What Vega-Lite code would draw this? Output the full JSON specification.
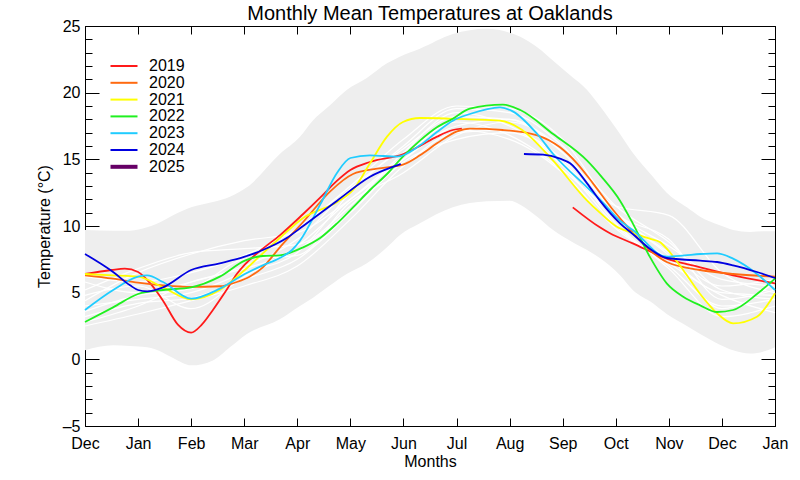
{
  "$schema": "https://vega.github.io/schema/vega-lite/v6.json",
  "width": 690,
  "height": 400,
  "autosize": "none",
  "padding": {"left": 85, "top": 26, "right": 25, "bottom": 54},
  "title": {"text": "Monthly Mean Temperatures at Oaklands", "fontSize": 20, "fontWeight": "normal", "anchor": "middle", "frame": "group", "baseline": "alphabetic", "offset": -22, "color": "black"},
  "config": {
    "font": "Liberation Sans",
    "view": {"stroke": "black", "strokeWidth": 1},
    "axis": {"grid": false, "domain": false, "tickColor": "black", "labelColor": "black", "titleColor": "black", "tickWidth": 1, "labelFontSize": 16, "titleFontSize": 16, "titleFontWeight": "normal"}
  },
  "datasets": {
    "band": [
      {"m": 0, "lo": 0.68, "hi": 9.7}, {"m": 0.53, "lo": 1.05, "hi": 9.65}, {"m": 0.85, "lo": 1.0, "hi": 9.65}, {"m": 1.17, "lo": 0.9, "hi": 9.9},
      {"m": 1.47, "lo": 0.5, "hi": 10.4}, {"m": 1.66, "lo": 0.1, "hi": 10.8}, {"m": 2, "lo": -0.45, "hi": 11.4}, {"m": 2.41, "lo": -0.08, "hi": 11.8},
      {"m": 2.73, "lo": 0.9, "hi": 12.2}, {"m": 3.05, "lo": 1.9, "hi": 12.9}, {"m": 3.67, "lo": 3.0, "hi": 15.4}, {"m": 4.05, "lo": 4.0, "hi": 16.7},
      {"m": 4.29, "lo": 4.6, "hi": 17.9}, {"m": 4.6, "lo": 5.5, "hi": 19.0}, {"m": 4.93, "lo": 6.4, "hi": 20.2}, {"m": 5.31, "lo": 7.2, "hi": 21.1},
      {"m": 5.69, "lo": 8.4, "hi": 22.2}, {"m": 5.93, "lo": 9.3, "hi": 22.7}, {"m": 6.31, "lo": 10.2, "hi": 23.3}, {"m": 6.93, "lo": 11.4, "hi": 24.4},
      {"m": 7.57, "lo": 11.85, "hi": 24.8}, {"m": 8.0, "lo": 11.9, "hi": 24.5}, {"m": 8.2, "lo": 11.6, "hi": 24.2}, {"m": 8.52, "lo": 10.7, "hi": 23.4},
      {"m": 8.82, "lo": 9.7, "hi": 22.4}, {"m": 9.14, "lo": 8.9, "hi": 21.3}, {"m": 9.46, "lo": 8.2, "hi": 20.2}, {"m": 9.7, "lo": 7.6, "hi": 19.0},
      {"m": 10.08, "lo": 6.3, "hi": 16.9}, {"m": 10.32, "lo": 5.2, "hi": 15.5}, {"m": 10.7, "lo": 4.2, "hi": 13.7}, {"m": 10.96, "lo": 3.4, "hi": 12.5},
      {"m": 11.34, "lo": 2.5, "hi": 11.4}, {"m": 11.59, "lo": 1.9, "hi": 10.7}, {"m": 11.96, "lo": 1.1, "hi": 10.05}, {"m": 12.21, "lo": 0.68, "hi": 9.7},
      {"m": 12.53, "lo": 0.43, "hi": 9.55}, {"m": 12.8, "lo": 0.6, "hi": 9.6}, {"m": 13, "lo": 0.9, "hi": 9.6}
    ],
    "white": [
      {"y": "w1", "m": 0, "v": 4.4}, {"y": "w1", "m": 1, "v": 6.5}, {"y": "w1", "m": 2, "v": 7.9}, {"y": "w1", "m": 3, "v": 8.9}, {"y": "w1", "m": 4, "v": 9.5}, {"y": "w1", "m": 5, "v": 12.0}, {"y": "w1", "m": 6, "v": 15.0}, {"y": "w1", "m": 7, "v": 17.5}, {"y": "w1", "m": 8, "v": 18.0}, {"y": "w1", "m": 9, "v": 15.5}, {"y": "w1", "m": 10, "v": 11.0}, {"y": "w1", "m": 11, "v": 8.5}, {"y": "w1", "m": 12, "v": 6.0}, {"y": "w1", "m": 13, "v": 5.5},
      {"y": "w2", "m": 0, "v": 5.2}, {"y": "w2", "m": 1, "v": 6.8}, {"y": "w2", "m": 2, "v": 8.0}, {"y": "w2", "m": 3, "v": 8.3}, {"y": "w2", "m": 4, "v": 8.6}, {"y": "w2", "m": 5, "v": 11.5}, {"y": "w2", "m": 6, "v": 15.5}, {"y": "w2", "m": 7, "v": 18.5}, {"y": "w2", "m": 8, "v": 17.5}, {"y": "w2", "m": 9, "v": 15.0}, {"y": "w2", "m": 10, "v": 10.5}, {"y": "w2", "m": 11, "v": 7.5}, {"y": "w2", "m": 12, "v": 5.0}, {"y": "w2", "m": 13, "v": 4.8},
      {"y": "w3", "m": 0, "v": 2.5}, {"y": "w3", "m": 1, "v": 3.4}, {"y": "w3", "m": 2, "v": 4.4}, {"y": "w3", "m": 3, "v": 5.5}, {"y": "w3", "m": 4, "v": 7.0}, {"y": "w3", "m": 5, "v": 10.5}, {"y": "w3", "m": 6, "v": 14.5}, {"y": "w3", "m": 7, "v": 17.0}, {"y": "w3", "m": 8, "v": 17.2}, {"y": "w3", "m": 9, "v": 14.5}, {"y": "w3", "m": 10, "v": 10.0}, {"y": "w3", "m": 11, "v": 7.0}, {"y": "w3", "m": 12, "v": 4.0}, {"y": "w3", "m": 13, "v": 4.5},
      {"y": "w4", "m": 0, "v": 4.0}, {"y": "w4", "m": 1, "v": 4.5}, {"y": "w4", "m": 2, "v": 5.0}, {"y": "w4", "m": 3, "v": 6.5}, {"y": "w4", "m": 4, "v": 8.0}, {"y": "w4", "m": 5, "v": 12.5}, {"y": "w4", "m": 6, "v": 16.0}, {"y": "w4", "m": 7, "v": 18.8}, {"y": "w4", "m": 8, "v": 18.5}, {"y": "w4", "m": 9, "v": 16.0}, {"y": "w4", "m": 10, "v": 11.5}, {"y": "w4", "m": 11, "v": 10.8}, {"y": "w4", "m": 12, "v": 6.5}, {"y": "w4", "m": 13, "v": 5.0},
      {"y": "w5", "m": 0, "v": 3.2}, {"y": "w5", "m": 1, "v": 4.2}, {"y": "w5", "m": 2, "v": 4.6}, {"y": "w5", "m": 3, "v": 6.0}, {"y": "w5", "m": 4, "v": 7.5}, {"y": "w5", "m": 5, "v": 11.0}, {"y": "w5", "m": 6, "v": 14.8}, {"y": "w5", "m": 7, "v": 16.5}, {"y": "w5", "m": 8, "v": 17.0}, {"y": "w5", "m": 9, "v": 14.8}, {"y": "w5", "m": 10, "v": 10.2}, {"y": "w5", "m": 11, "v": 6.8}, {"y": "w5", "m": 12, "v": 3.2}, {"y": "w5", "m": 13, "v": 4.0},
      {"y": "w6", "m": 0, "v": 5.8}, {"y": "w6", "m": 1, "v": 5.0}, {"y": "w6", "m": 2, "v": 5.8}, {"y": "w6", "m": 3, "v": 7.0}, {"y": "w6", "m": 4, "v": 9.0}, {"y": "w6", "m": 5, "v": 12.8}, {"y": "w6", "m": 6, "v": 15.8}, {"y": "w6", "m": 7, "v": 18.2}, {"y": "w6", "m": 8, "v": 18.0}, {"y": "w6", "m": 9, "v": 15.5}, {"y": "w6", "m": 10, "v": 11.0}, {"y": "w6", "m": 11, "v": 8.0}, {"y": "w6", "m": 12, "v": 5.5}, {"y": "w6", "m": 13, "v": 6.0},
      {"y": "w7", "m": 0, "v": 4.8}, {"y": "w7", "m": 1, "v": 5.5}, {"y": "w7", "m": 2, "v": 3.8}, {"y": "w7", "m": 3, "v": 6.2}, {"y": "w7", "m": 4, "v": 8.5}, {"y": "w7", "m": 5, "v": 12.0}, {"y": "w7", "m": 6, "v": 15.2}, {"y": "w7", "m": 7, "v": 17.8}, {"y": "w7", "m": 8, "v": 16.8}, {"y": "w7", "m": 9, "v": 14.2}, {"y": "w7", "m": 10, "v": 10.8}, {"y": "w7", "m": 11, "v": 9.0}, {"y": "w7", "m": 12, "v": 4.5}, {"y": "w7", "m": 13, "v": 5.2},
      {"y": "w8", "m": 0, "v": 3.6}, {"y": "w8", "m": 1, "v": 4.8}, {"y": "w8", "m": 2, "v": 5.3}, {"y": "w8", "m": 3, "v": 7.5}, {"y": "w8", "m": 4, "v": 7.8}, {"y": "w8", "m": 5, "v": 11.8}, {"y": "w8", "m": 6, "v": 14.0}, {"y": "w8", "m": 7, "v": 16.8}, {"y": "w8", "m": 8, "v": 17.8}, {"y": "w8", "m": 9, "v": 15.8}, {"y": "w8", "m": 10, "v": 11.5}, {"y": "w8", "m": 11, "v": 8.8}, {"y": "w8", "m": 12, "v": 5.2}, {"y": "w8", "m": 13, "v": 4.5},
      {"y": "w9", "m": 0, "v": 6.2}, {"y": "w9", "m": 1, "v": 5.8}, {"y": "w9", "m": 2, "v": 6.5}, {"y": "w9", "m": 3, "v": 7.8}, {"y": "w9", "m": 4, "v": 9.8}, {"y": "w9", "m": 5, "v": 13.0}, {"y": "w9", "m": 6, "v": 16.5}, {"y": "w9", "m": 7, "v": 19.0}, {"y": "w9", "m": 8, "v": 18.8}, {"y": "w9", "m": 9, "v": 16.5}, {"y": "w9", "m": 10, "v": 11.0}, {"y": "w9", "m": 11, "v": 7.8}, {"y": "w9", "m": 12, "v": 3.8}, {"y": "w9", "m": 13, "v": 5.8},
      {"y": "w10", "m": 0, "v": 2.8}, {"y": "w10", "m": 1, "v": 4.0}, {"y": "w10", "m": 2, "v": 5.8}, {"y": "w10", "m": 3, "v": 6.8}, {"y": "w10", "m": 4, "v": 8.2}, {"y": "w10", "m": 5, "v": 11.2}, {"y": "w10", "m": 6, "v": 15.0}, {"y": "w10", "m": 7, "v": 17.2}, {"y": "w10", "m": 8, "v": 16.5}, {"y": "w10", "m": 9, "v": 14.0}, {"y": "w10", "m": 10, "v": 9.8}, {"y": "w10", "m": 11, "v": 7.2}, {"y": "w10", "m": 12, "v": 4.8}, {"y": "w10", "m": 13, "v": 3.5}
    ],
    "temps": [
      {"year": "2019", "seg": "2019a", "m": 0, "v": 6.4}, {"year": "2019", "seg": "2019a", "m": 0.5, "v": 6.7}, {"year": "2019", "seg": "2019a", "m": 0.75, "v": 6.8}, {"year": "2019", "seg": "2019a", "m": 1, "v": 6.55}, {"year": "2019", "seg": "2019a", "m": 1.25, "v": 5.6}, {"year": "2019", "seg": "2019a", "m": 1.47, "v": 4.4}, {"year": "2019", "seg": "2019a", "m": 1.75, "v": 2.6}, {"year": "2019", "seg": "2019a", "m": 2, "v": 2.0}, {"year": "2019", "seg": "2019a", "m": 2.2, "v": 2.6}, {"year": "2019", "seg": "2019a", "m": 2.41, "v": 3.7}, {"year": "2019", "seg": "2019a", "m": 2.65, "v": 5.1}, {"year": "2019", "seg": "2019a", "m": 2.86, "v": 6.4}, {"year": "2019", "seg": "2019a", "m": 3.01, "v": 7.1}, {"year": "2019", "seg": "2019a", "m": 3.35, "v": 8.3}, {"year": "2019", "seg": "2019a", "m": 3.67, "v": 9.3}, {"year": "2019", "seg": "2019a", "m": 4.11, "v": 10.9}, {"year": "2019", "seg": "2019a", "m": 4.45, "v": 12.2}, {"year": "2019", "seg": "2019a", "m": 4.75, "v": 13.4}, {"year": "2019", "seg": "2019a", "m": 5.0, "v": 14.2}, {"year": "2019", "seg": "2019a", "m": 5.37, "v": 14.8}, {"year": "2019", "seg": "2019a", "m": 6.0, "v": 15.4}, {"year": "2019", "seg": "2019a", "m": 6.31, "v": 16.0}, {"year": "2019", "seg": "2019a", "m": 6.63, "v": 16.7}, {"year": "2019", "seg": "2019a", "m": 6.93, "v": 17.2}, {"year": "2019", "seg": "2019a", "m": 7.1, "v": 17.3},
      {"year": "2019", "seg": "2019b", "m": 9.19, "v": 11.4}, {"year": "2019", "seg": "2019b", "m": 9.7, "v": 9.9}, {"year": "2019", "seg": "2019b", "m": 9.89, "v": 9.45}, {"year": "2019", "seg": "2019b", "m": 10.32, "v": 8.7}, {"year": "2019", "seg": "2019b", "m": 10.96, "v": 7.55}, {"year": "2019", "seg": "2019b", "m": 11.59, "v": 6.9}, {"year": "2019", "seg": "2019b", "m": 12.21, "v": 6.3}, {"year": "2019", "seg": "2019b", "m": 13, "v": 5.7},
      {"year": "2020", "seg": "2020a", "m": 0, "v": 6.3}, {"year": "2020", "seg": "2020a", "m": 0.53, "v": 6.05}, {"year": "2020", "seg": "2020a", "m": 1, "v": 5.75}, {"year": "2020", "seg": "2020a", "m": 1.47, "v": 5.55}, {"year": "2020", "seg": "2020a", "m": 2, "v": 5.43}, {"year": "2020", "seg": "2020a", "m": 2.54, "v": 5.48}, {"year": "2020", "seg": "2020a", "m": 2.86, "v": 5.8}, {"year": "2020", "seg": "2020a", "m": 3.1, "v": 6.2}, {"year": "2020", "seg": "2020a", "m": 3.35, "v": 6.9}, {"year": "2020", "seg": "2020a", "m": 3.67, "v": 8.4}, {"year": "2020", "seg": "2020a", "m": 4.11, "v": 10.3}, {"year": "2020", "seg": "2020a", "m": 4.62, "v": 12.6}, {"year": "2020", "seg": "2020a", "m": 5.05, "v": 13.9}, {"year": "2020", "seg": "2020a", "m": 5.5, "v": 14.3}, {"year": "2020", "seg": "2020a", "m": 5.99, "v": 14.6}, {"year": "2020", "seg": "2020a", "m": 6.31, "v": 15.3}, {"year": "2020", "seg": "2020a", "m": 6.63, "v": 16.2}, {"year": "2020", "seg": "2020a", "m": 7.01, "v": 17.1}, {"year": "2020", "seg": "2020a", "m": 7.25, "v": 17.3}, {"year": "2020", "seg": "2020a", "m": 7.87, "v": 17.2}, {"year": "2020", "seg": "2020a", "m": 8.52, "v": 16.8}, {"year": "2020", "seg": "2020a", "m": 8.95, "v": 15.9}, {"year": "2020", "seg": "2020a", "m": 9.27, "v": 14.7}, {"year": "2020", "seg": "2020a", "m": 9.57, "v": 13.2}, {"year": "2020", "seg": "2020a", "m": 9.95, "v": 11.2}, {"year": "2020", "seg": "2020a", "m": 10.32, "v": 9.5}, {"year": "2020", "seg": "2020a", "m": 10.64, "v": 8.2}, {"year": "2020", "seg": "2020a", "m": 10.96, "v": 7.3}, {"year": "2020", "seg": "2020a", "m": 11.59, "v": 6.7}, {"year": "2020", "seg": "2020a", "m": 12.21, "v": 6.4}, {"year": "2020", "seg": "2020a", "m": 13, "v": 6.2},
      {"year": "2021", "seg": "2021a", "m": 0, "v": 6.4}, {"year": "2021", "seg": "2021a", "m": 0.53, "v": 6.3}, {"year": "2021", "seg": "2021a", "m": 1, "v": 6.2}, {"year": "2021", "seg": "2021a", "m": 1.47, "v": 5.4}, {"year": "2021", "seg": "2021a", "m": 2, "v": 4.5}, {"year": "2021", "seg": "2021a", "m": 2.54, "v": 5.2}, {"year": "2021", "seg": "2021a", "m": 3.01, "v": 6.7}, {"year": "2021", "seg": "2021a", "m": 3.35, "v": 7.95}, {"year": "2021", "seg": "2021a", "m": 3.67, "v": 9.1}, {"year": "2021", "seg": "2021a", "m": 4.11, "v": 10.6}, {"year": "2021", "seg": "2021a", "m": 4.75, "v": 11.8}, {"year": "2021", "seg": "2021a", "m": 5.05, "v": 12.7}, {"year": "2021", "seg": "2021a", "m": 5.37, "v": 14.7}, {"year": "2021", "seg": "2021a", "m": 5.69, "v": 16.7}, {"year": "2021", "seg": "2021a", "m": 5.99, "v": 17.8}, {"year": "2021", "seg": "2021a", "m": 6.31, "v": 18.1}, {"year": "2021", "seg": "2021a", "m": 7.25, "v": 18.0}, {"year": "2021", "seg": "2021a", "m": 7.82, "v": 17.9}, {"year": "2021", "seg": "2021a", "m": 8.2, "v": 17.3}, {"year": "2021", "seg": "2021a", "m": 8.82, "v": 14.9}, {"year": "2021", "seg": "2021a", "m": 9.46, "v": 11.9}, {"year": "2021", "seg": "2021a", "m": 9.7, "v": 11.0}, {"year": "2021", "seg": "2021a", "m": 10.02, "v": 9.95}, {"year": "2021", "seg": "2021a", "m": 10.3, "v": 9.5}, {"year": "2021", "seg": "2021a", "m": 10.64, "v": 9.05}, {"year": "2021", "seg": "2021a", "m": 10.83, "v": 8.8}, {"year": "2021", "seg": "2021a", "m": 10.96, "v": 8.3}, {"year": "2021", "seg": "2021a", "m": 11.27, "v": 6.7}, {"year": "2021", "seg": "2021a", "m": 11.59, "v": 4.9}, {"year": "2021", "seg": "2021a", "m": 11.91, "v": 3.45}, {"year": "2021", "seg": "2021a", "m": 12.21, "v": 2.7}, {"year": "2021", "seg": "2021a", "m": 12.66, "v": 3.2}, {"year": "2021", "seg": "2021a", "m": 13, "v": 4.95},
      {"year": "2022", "seg": "2022a", "m": 0, "v": 2.8}, {"year": "2022", "seg": "2022a", "m": 0.53, "v": 3.9}, {"year": "2022", "seg": "2022a", "m": 1, "v": 4.9}, {"year": "2022", "seg": "2022a", "m": 1.47, "v": 5.2}, {"year": "2022", "seg": "2022a", "m": 2, "v": 5.4}, {"year": "2022", "seg": "2022a", "m": 2.54, "v": 6.2}, {"year": "2022", "seg": "2022a", "m": 3.01, "v": 7.4}, {"year": "2022", "seg": "2022a", "m": 3.35, "v": 7.75}, {"year": "2022", "seg": "2022a", "m": 3.67, "v": 7.8}, {"year": "2022", "seg": "2022a", "m": 4.11, "v": 8.4}, {"year": "2022", "seg": "2022a", "m": 4.43, "v": 9.1}, {"year": "2022", "seg": "2022a", "m": 4.75, "v": 10.2}, {"year": "2022", "seg": "2022a", "m": 5.05, "v": 11.4}, {"year": "2022", "seg": "2022a", "m": 5.37, "v": 12.7}, {"year": "2022", "seg": "2022a", "m": 5.69, "v": 13.9}, {"year": "2022", "seg": "2022a", "m": 5.99, "v": 15.2}, {"year": "2022", "seg": "2022a", "m": 6.31, "v": 16.4}, {"year": "2022", "seg": "2022a", "m": 6.63, "v": 17.4}, {"year": "2022", "seg": "2022a", "m": 6.93, "v": 18.05}, {"year": "2022", "seg": "2022a", "m": 7.25, "v": 18.8}, {"year": "2022", "seg": "2022a", "m": 7.87, "v": 19.1}, {"year": "2022", "seg": "2022a", "m": 8.2, "v": 18.7}, {"year": "2022", "seg": "2022a", "m": 8.82, "v": 16.9}, {"year": "2022", "seg": "2022a", "m": 9.46, "v": 14.9}, {"year": "2022", "seg": "2022a", "m": 9.73, "v": 13.7}, {"year": "2022", "seg": "2022a", "m": 10.08, "v": 11.9}, {"year": "2022", "seg": "2022a", "m": 10.32, "v": 10.2}, {"year": "2022", "seg": "2022a", "m": 10.64, "v": 7.7}, {"year": "2022", "seg": "2022a", "m": 10.96, "v": 5.7}, {"year": "2022", "seg": "2022a", "m": 11.27, "v": 4.7}, {"year": "2022", "seg": "2022a", "m": 11.59, "v": 4.05}, {"year": "2022", "seg": "2022a", "m": 11.91, "v": 3.55}, {"year": "2022", "seg": "2022a", "m": 12.21, "v": 3.7}, {"year": "2022", "seg": "2022a", "m": 12.66, "v": 4.9}, {"year": "2022", "seg": "2022a", "m": 13, "v": 6.05},
      {"year": "2023", "seg": "2023a", "m": 0, "v": 3.7}, {"year": "2023", "seg": "2023a", "m": 0.53, "v": 5.2}, {"year": "2023", "seg": "2023a", "m": 1, "v": 6.2}, {"year": "2023", "seg": "2023a", "m": 1.17, "v": 6.3}, {"year": "2023", "seg": "2023a", "m": 1.47, "v": 5.8}, {"year": "2023", "seg": "2023a", "m": 2, "v": 4.55}, {"year": "2023", "seg": "2023a", "m": 2.54, "v": 5.3}, {"year": "2023", "seg": "2023a", "m": 3.01, "v": 6.4}, {"year": "2023", "seg": "2023a", "m": 3.35, "v": 7.05}, {"year": "2023", "seg": "2023a", "m": 3.67, "v": 7.6}, {"year": "2023", "seg": "2023a", "m": 3.9, "v": 8.2}, {"year": "2023", "seg": "2023a", "m": 4.05, "v": 8.9}, {"year": "2023", "seg": "2023a", "m": 4.43, "v": 11.6}, {"year": "2023", "seg": "2023a", "m": 4.75, "v": 14.0}, {"year": "2023", "seg": "2023a", "m": 5.0, "v": 15.1}, {"year": "2023", "seg": "2023a", "m": 5.37, "v": 15.3}, {"year": "2023", "seg": "2023a", "m": 5.88, "v": 15.2}, {"year": "2023", "seg": "2023a", "m": 6.31, "v": 16.05}, {"year": "2023", "seg": "2023a", "m": 6.63, "v": 17.05}, {"year": "2023", "seg": "2023a", "m": 6.93, "v": 17.9}, {"year": "2023", "seg": "2023a", "m": 7.25, "v": 18.4}, {"year": "2023", "seg": "2023a", "m": 7.82, "v": 18.9}, {"year": "2023", "seg": "2023a", "m": 8.06, "v": 18.6}, {"year": "2023", "seg": "2023a", "m": 8.52, "v": 16.9}, {"year": "2023", "seg": "2023a", "m": 8.82, "v": 15.4}, {"year": "2023", "seg": "2023a", "m": 9.46, "v": 12.9}, {"year": "2023", "seg": "2023a", "m": 9.7, "v": 12.0}, {"year": "2023", "seg": "2023a", "m": 10.08, "v": 10.4}, {"year": "2023", "seg": "2023a", "m": 10.32, "v": 9.7}, {"year": "2023", "seg": "2023a", "m": 10.96, "v": 7.7}, {"year": "2023", "seg": "2023a", "m": 11.3, "v": 7.8}, {"year": "2023", "seg": "2023a", "m": 11.59, "v": 7.9}, {"year": "2023", "seg": "2023a", "m": 11.91, "v": 7.95}, {"year": "2023", "seg": "2023a", "m": 12.21, "v": 7.55}, {"year": "2023", "seg": "2023a", "m": 12.66, "v": 6.4}, {"year": "2023", "seg": "2023a", "m": 13, "v": 5.2},
      {"year": "2024", "seg": "2024a", "m": 0, "v": 7.9}, {"year": "2024", "seg": "2024a", "m": 0.53, "v": 6.55}, {"year": "2024", "seg": "2024a", "m": 0.85, "v": 5.55}, {"year": "2024", "seg": "2024a", "m": 1, "v": 5.2}, {"year": "2024", "seg": "2024a", "m": 1.17, "v": 5.1}, {"year": "2024", "seg": "2024a", "m": 1.47, "v": 5.4}, {"year": "2024", "seg": "2024a", "m": 2, "v": 6.7}, {"year": "2024", "seg": "2024a", "m": 2.54, "v": 7.2}, {"year": "2024", "seg": "2024a", "m": 3.01, "v": 7.7}, {"year": "2024", "seg": "2024a", "m": 3.35, "v": 8.2}, {"year": "2024", "seg": "2024a", "m": 3.8, "v": 9.1}, {"year": "2024", "seg": "2024a", "m": 4.11, "v": 10.0}, {"year": "2024", "seg": "2024a", "m": 4.75, "v": 11.9}, {"year": "2024", "seg": "2024a", "m": 5.37, "v": 13.7}, {"year": "2024", "seg": "2024a", "m": 5.88, "v": 14.55}, {"year": "2024", "seg": "2024a", "m": 5.95, "v": 14.65},
      {"year": "2024", "seg": "2024b", "m": 8.27, "v": 15.4}, {"year": "2024", "seg": "2024b", "m": 8.63, "v": 15.35}, {"year": "2024", "seg": "2024b", "m": 8.95, "v": 15.05}, {"year": "2024", "seg": "2024b", "m": 9.14, "v": 14.7}, {"year": "2024", "seg": "2024b", "m": 9.46, "v": 13.2}, {"year": "2024", "seg": "2024b", "m": 9.7, "v": 11.9}, {"year": "2024", "seg": "2024b", "m": 10.08, "v": 10.2}, {"year": "2024", "seg": "2024b", "m": 10.32, "v": 9.4}, {"year": "2024", "seg": "2024b", "m": 10.64, "v": 8.3}, {"year": "2024", "seg": "2024b", "m": 10.96, "v": 7.6}, {"year": "2024", "seg": "2024b", "m": 11.59, "v": 7.4}, {"year": "2024", "seg": "2024b", "m": 11.91, "v": 7.3}, {"year": "2024", "seg": "2024b", "m": 12.21, "v": 7.05}, {"year": "2024", "seg": "2024b", "m": 12.66, "v": 6.55}, {"year": "2024", "seg": "2024b", "m": 13, "v": 6.1}
    ]
  },
  "layer": [
    {
      "data": {"name": "band"},
      "mark": {"type": "area", "color": "#eeeeee", "interpolate": "monotone"},
      "encoding": {
        "x": {"field": "m", "type": "quantitative", "scale": {"domain": [0, 13], "nice": false, "zero": false},
          "axis": {"orient": "bottom", "values": [0, 1, 2, 3, 4, 5, 6, 7, 8, 9, 10, 11, 12, 13], "labelExpr": "['Dec','Jan','Feb','Mar','Apr','May','Jun','Jul','Aug','Sep','Oct','Nov','Dec','Jan'][datum.value]", "tickSize": -8, "labelPadding": 17, "labelFlush": false, "labelOverlap": false, "title": "Months", "titlePadding": 2}},
        "y": {"field": "lo", "type": "quantitative", "scale": {"domain": [-5, 25], "nice": false, "zero": false},
          "axis": {"orient": "left", "values": [-5, 0, 5, 10, 15, 20, 25], "tickSize": -14, "labelPadding": 19, "labelFlush": false, "labelOverlap": false, "labelExpr": "replace(datum.label, '−', '–')", "title": "Temperature (°C)", "titlePadding": 10}},
        "y2": {"field": "hi"}
      }
    },
    {
      "data": {"name": "white"},
      "mark": {"type": "line", "color": "white", "strokeWidth": 1.2, "interpolate": "monotone"},
      "encoding": {
        "x": {"field": "m", "type": "quantitative", "scale": {"domain": [0, 13], "nice": false, "zero": false},
          "axis": {"orient": "top", "values": [0, 1, 2, 3, 4, 5, 6, 7, 8, 9, 10, 11, 12, 13], "tickSize": -8, "labels": false, "title": null}},
        "y": {"field": "v", "type": "quantitative", "scale": {"domain": [-5, 25], "nice": false, "zero": false},
          "axis": {"orient": "right", "values": [-5, 0, 5, 10, 15, 20, 25], "tickSize": -14, "labels": false, "title": null}},
        "detail": {"field": "y", "type": "nominal"}
      }
    },
    {
      "data": {"name": "temps"},
      "mark": {"type": "line", "strokeWidth": 1.8, "interpolate": "monotone"},
      "encoding": {
        "x": {"field": "m", "type": "quantitative", "scale": {"domain": [0, 13], "nice": false, "zero": false}, "axis": null},
        "y": {"field": "v", "type": "quantitative", "scale": {"domain": [-5, 25], "nice": false, "zero": false},
          "axis": {"orient": "left", "values": [-5, -4, -3, -2, -1, 0, 1, 2, 3, 4, 5, 6, 7, 8, 9, 10, 11, 12, 13, 14, 15, 16, 17, 18, 19, 20, 21, 22, 23, 24, 25], "tickSize": -7, "labels": false, "title": null}},
        "color": {"field": "year", "type": "nominal",
          "scale": {"domain": ["2019", "2020", "2021", "2022", "2023", "2024", "2025"], "range": ["#ff1a1a", "#ff6a10", "#ffff00", "#20f020", "#20ccff", "#0000e0", "#660066"]},
          "legend": {"orient": "none", "legendX": 31, "legendY": 32, "title": null, "padding": 0, "symbolType": "stroke", "symbolSize": 729, "symbolStrokeWidth": 2, "symbolOpacity": 1, "labelFontSize": 16, "labelOffset": 17, "labelColor": "black", "rowPadding": 0.8,
            "encode": {"symbols": {"update": {"strokeWidth": {"signal": "datum.value === '2025' ? 4 : 2"}}}}}},
        "detail": {"field": "seg", "type": "nominal"}
      }
    },
    {
      "data": {"name": "band"},
      "mark": {"type": "point", "opacity": 0},
      "encoding": {
        "x": {"field": "m", "type": "quantitative", "scale": {"domain": [0, 13], "nice": false, "zero": false}, "axis": null},
        "y": {"field": "hi", "type": "quantitative", "scale": {"domain": [-5, 25], "nice": false, "zero": false},
          "axis": {"orient": "right", "values": [-5, -4, -3, -2, -1, 0, 1, 2, 3, 4, 5, 6, 7, 8, 9, 10, 11, 12, 13, 14, 15, 16, 17, 18, 19, 20, 21, 22, 23, 24, 25], "tickSize": -7, "labels": false, "title": null}}
      }
    }
  ],
  "resolve": {"axis": {"x": "independent", "y": "independent"}}
}
